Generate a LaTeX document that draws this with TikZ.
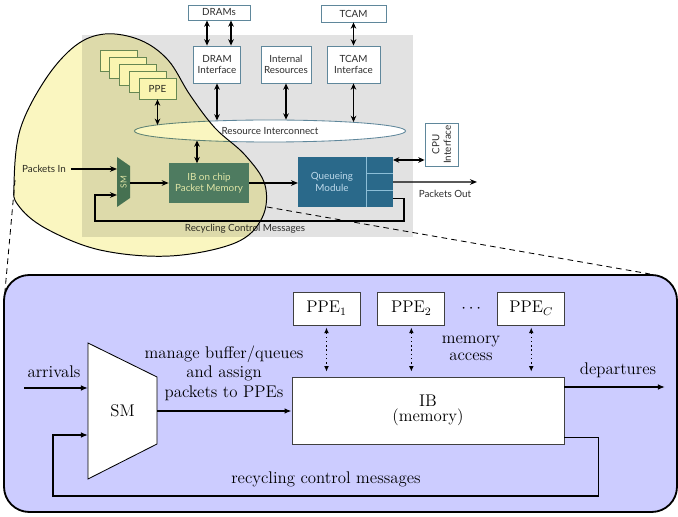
\documentclass[tikz,border=0pt]{standalone}
\usepackage{fontspec}
\newfontfamily\chipfont{Lato}
\usetikzlibrary{arrows.meta,positioning,shapes.geometric,calc}
\definecolor{chipgray}{RGB}{226,226,226}
\definecolor{chipline}{RGB}{95,135,155}
\definecolor{chiptext}{RGB}{45,45,45}
\definecolor{ibgreen}{RGB}{80,128,128}
\definecolor{smgreen}{RGB}{72,118,108}
\definecolor{qblue}{RGB}{42,105,138}
\definecolor{qline}{RGB}{140,190,215}
\definecolor{qtext}{RGB}{190,218,235}
\definecolor{ibtext}{RGB}{228,238,222}
\definecolor{ppefill}{RGB}{255,254,235}
\definecolor{ppeline}{RGB}{105,140,110}
\definecolor{blobfill}{RGB}{250,246,192}
\definecolor{zoombg}{RGB}{204,204,255}

\begin{document}
\begin{tikzpicture}[x=0.025cm, y=-0.025cm,
  font=\fontsize{12}{14}\selectfont,
  chipfont/.style={font=\chipfont\fontsize{7}{8}\selectfont, text=chiptext},
  chipbox/.style={rectangle, draw=chipline, fill=white, line width=0.6pt,
    inner sep=1pt, align=center, chipfont},
  ppebox/.style={rectangle, draw=ppeline, fill=ppefill, line width=0.6pt,
    minimum width=0.925cm, minimum height=0.525cm, inner sep=0pt, chipfont},
  qcell/.style={rectangle, fill=qblue, minimum width=0.675cm,
    minimum height=0.4167cm, inner sep=0pt, outer sep=0pt},
  chiparrow/.style={-{Stealth[length=5pt,width=4pt]}, line width=0.9pt},
  chipdbl/.style={{Stealth[length=4.5pt,width=4pt]}-{Stealth[length=4.5pt,width=4pt]},
    line width=0.9pt},
  ppe/.style={rectangle, draw=black!75, fill=white, line width=0.6pt,
    minimum width=1.675cm, minimum height=0.825cm},
  membox/.style={rectangle, draw=black!75, fill=white, line width=0.6pt,
    minimum width=6.8cm, minimum height=1.675cm, align=center},
  smnode/.style={rectangle, minimum width=1.725cm, minimum height=3.4cm,
    inner sep=0pt, outer sep=0pt},
  flow/.style={-{Latex[length=5pt,width=4pt]}, line width=1.2pt},
  access/.style={{Latex[length=4pt,width=3.5pt]}-{Latex[length=4pt,width=3.5pt]},
    dotted, line width=1pt, shorten <=1.5pt, shorten >=3.5pt},
  >=Stealth
]
  \useasboundingbox (0,0) rectangle (678,517);

  % chip overview
  \fill[chipgray] (82,35) rectangle (413,237);

  \node[chipbox, minimum width=1.55cm, minimum height=0.375cm] (DRAMs) at (219,12.5) {DRAMs};
  \node[chipbox, minimum width=1.625cm, minimum height=0.425cm] (TCAM) at (353.5,13.5) {TCAM};
  \node[chipbox, minimum width=1.175cm, minimum height=0.925cm] (DRAMif) at (217,64.5) {DRAM\\Interface};
  \node[chipbox, minimum width=1.25cm, minimum height=0.925cm] (Intres) at (286,64.5) {Internal\\Resources};
  \node[chipbox, minimum width=1.325cm, minimum height=0.925cm] (TCAMif) at (353.5,64.5) {TCAM\\Interface};
  \node[ellipse, draw=chipline, fill=white, line width=0.6pt, inner sep=0pt,
    minimum width=6.775cm, minimum height=0.55cm, chipfont] (RI) at (270,131) {Resource Interconnect};

  \foreach \i in {0,...,3}
    \node[ppebox] at (118.5+9.75*\i,60.5+7*\i) {};
  \node[ppebox] (PPE) at (157.5,88.5) {PPE};

  \coordinate (dA) at ($(DRAMs.south)+(-12,0)$);
  \coordinate (dB) at ($(DRAMs.south)+(12,0)$);
  \draw[chipdbl] (dA) -- (dA |- DRAMif.north);
  \draw[chipdbl] (dB) -- (dB |- DRAMif.north);
  \draw[chipdbl] (TCAM) -- (TCAMif);
  \draw[chipdbl] (DRAMif.south) -- (DRAMif.south |- RI.169);
  \draw[chipdbl] (Intres.south) -- (Intres.south |- RI.34);
  \draw[chipdbl] (TCAMif.south) -- (TCAMif.south |- RI.6);
  \draw[chipdbl] (PPE.south) -- (PPE.south |- RI.177);

  \fill[smgreen] (117,157) -- (130,166) -- (130,198) -- (117,207) -- cycle;
  \node[rectangle, inner sep=0pt, outer sep=0pt, minimum width=0.325cm,
    minimum height=1.25cm, font=\chipfont\fontsize{6}{7}\selectfont, text=ibtext]
    (SMt) at (123.5,182) {\rotatebox{90}{SM}};
  \node[rectangle, fill=ibgreen, minimum width=2cm, minimum height=0.975cm,
    align=center, chipfont, text=ibtext] (IBt) at (209,183) {IB on chip\\Packet Memory};
  \coordinate (ibA) at ($(IBt.north)+(-12,0)$);
  \draw[chipdbl] (ibA |- RI.187) -- (ibA);

  \node[rectangle, fill=qblue, outer sep=0pt, minimum width=1.7cm, minimum height=1.25cm,
    align=center, chipfont, text=qtext] (QM) at (332,182) {Queueing\\Module};
  \node[qcell, anchor=north west] (q1) at (QM.north east) {};
  \node[qcell, below=0pt of q1] (q2) {};
  \node[qcell, below=0pt of q2] (q3) {};
  \draw[qline, line width=0.6pt] (q1.north west) -- (q3.south west);
  \draw[qline, line width=0.6pt] (q1.south west) -- (q1.south east);
  \draw[qline, line width=0.6pt] (q2.south west) -- (q2.south east);

  \node[chipbox, minimum width=0.825cm, minimum height=1.075cm] (CPU) at (441.5,144.5)
    {\rotatebox{90}{\shortstack{CPU\\Interface}}};

  \node[chipfont] (PIn) at (44,169) {Packets In};
  \draw[chiparrow] (PIn.east) -- (PIn.east -| SMt.west);
  \draw[chiparrow] (SMt.east |- IBt) -- (IBt.west);
  \draw[chiparrow] (IBt.east) -- (IBt.east -| QM.west);
  \coordinate (cpuA) at ($(q1.north east)+(0,3)$);
  \draw[chipdbl] (cpuA) -- (cpuA -| CPU.west);
  \coordinate (pout) at (477,182);
  \draw[chiparrow] (q2.east) -- (pout);
  \node[chipfont] (POut) at (445,194) {Packets Out};
  \coordinate (rtop) at (95,221);
  \draw[chiparrow] (q3.east) -- ++(11,0) |- (rtop) |- ($(SMt.west)+(0,13)$);
  \node[chipfont] (RCM) at (245,229) {Recycling Control Messages};

  \begin{scope}[blend mode=multiply]
    \path[fill=blobfill, draw=black, line width=0.7pt]
      plot[smooth cycle, tension=0.6] coordinates {(14,185) (20,130) (45,80) (75,46)
        (105,34) (140,40) (168,60) (190,95) (215,128) (245,155) (265,185) (262,218)
        (235,243) (170,256) (100,250) (45,228) (18,205)};
  \end{scope}

  \coordinate (bl) at (15,180);
  \coordinate (br) at (267,207);
  \coordinate (zl) at (4,302);
  \coordinate (zr) at (650,274);
  \draw[dashed, line width=0.6pt, dash pattern=on 4pt off 3pt] (bl) -- (zl);
  \draw[dashed, line width=0.6pt, dash pattern=on 4pt off 3pt] (br) -- (zr);

  % zoomed model
  \draw[line width=1.3pt, fill=zoombg, rounded corners=18pt] (4,275) rectangle (677,512);

  \node[ppe] (PPE1) at (326.5,308.5) {PPE$_1$};
  \node[ppe, right=0.425cm of PPE1] (PPE2) {PPE$_2$};
  \node[ppe, right=1.3cm of PPE2] (PPEC) {PPE$_C$};
  \node (dots) at ($(PPE2.east)!0.5!(PPEC.west)$) {$\cdots$};
  \node[membox] (IB) at (428,410.5) {IB\\[-3pt](memory)};
  \draw[access] (PPE1.south) -- (PPE1.south |- IB.north);
  \draw[access] (PPE2.south) -- (PPE2.south |- IB.north);
  \draw[access] (PPEC.south) -- (PPEC.south |- IB.north);
  \node[align=center] (macc) at (471,348) {memory\\[-2pt]access};

  \draw[line width=0.6pt, fill=white] (88,343) -- (157,377) -- (157,444) -- (88,479) -- cycle;
  \node[smnode] (SM) at (122.5,411) {SM};

  \coordinate (arrin) at (24,388);
  \node (arrl) at (54,372) {arrivals};
  \draw[flow] (arrin) -- (arrin -| SM.west);
  \draw[flow] (SM.east) -- (SM.east -| IB.west);
  \node[align=center] (mng) at (224,373) {manage buffer/queues\\and assign\\packets to PPEs};
  \coordinate (depout) at (665,387);
  \draw[flow] (IB.east |- depout) -- (depout);
  \node (depl) at (618,370) {departures};
  \coordinate (rbot) at (53,496);
  \draw[flow] ($(IB.south east)+(0,-7)$) -- ++(34,0) |- (rbot) |- ($(SM.west)+(0,24)$);
  \node (rcm) at (326,479) {recycling control messages};
\end{tikzpicture}
\end{document}
